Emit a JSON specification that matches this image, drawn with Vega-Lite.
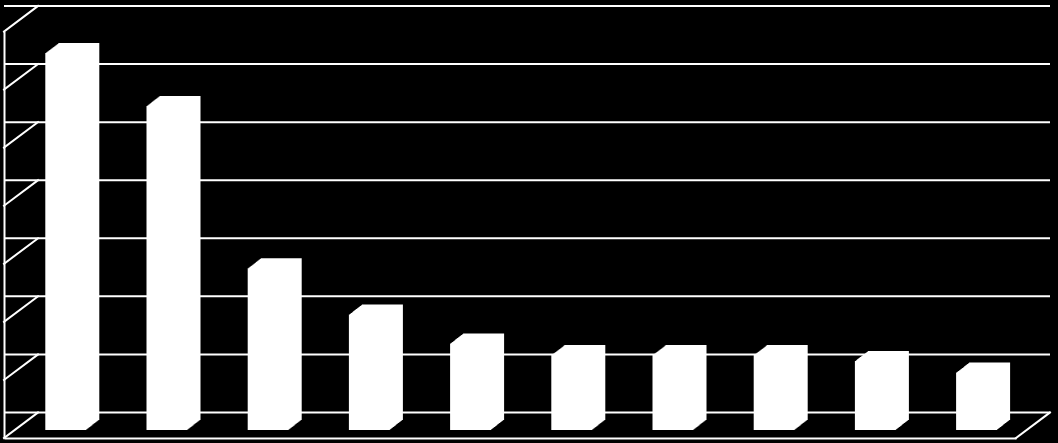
{
  "$schema": "https://vega.github.io/schema/vega-lite/v6.json",
  "width": 1012,
  "height": 406.5,
  "autosize": {"type": "none"},
  "padding": {"left": 4, "top": 31.5, "right": 42, "bottom": 5},
  "background": "#000000",
  "config": {"view": {"stroke": null}},
  "datasets": {
    "grid": [{"g": 0}, {"g": 1}, {"g": 2}, {"g": 3}, {"g": 4}, {"g": 5}, {"g": 6}, {"g": 7}],
    "bars": [
      {"c": "1", "v": 6.49},
      {"c": "2", "v": 5.58},
      {"c": "3", "v": 2.785},
      {"c": "4", "v": 1.99},
      {"c": "5", "v": 1.49},
      {"c": "6", "v": 1.29},
      {"c": "7", "v": 1.29},
      {"c": "8", "v": 1.29},
      {"c": "9", "v": 1.19},
      {"c": "10", "v": 0.99}
    ]
  },
  "layer": [
    {
      "data": {"name": "grid"},
      "mark": {"type": "rule", "color": "#ffffff", "strokeWidth": 2, "xOffset": 34, "x2Offset": 34, "yOffset": -25.5, "y2Offset": -25.5},
      "encoding": {
        "y": {"field": "g", "type": "quantitative", "scale": {"domain": [0, 7], "nice": false, "zero": true},
          "axis": {"labels": false, "ticks": false, "grid": false, "title": null, "domainColor": "#ffffff", "domainWidth": 2}}
      }
    },
    {
      "data": {"name": "grid"},
      "mark": {"type": "rule", "color": "#ffffff", "strokeWidth": 2, "strokeCap": "square", "x2Offset": 34, "y2Offset": -25.5},
      "encoding": {
        "x": {"value": 0},
        "x2": {"value": 0},
        "y": {"field": "g", "type": "quantitative"},
        "y2": {"field": "g"}
      }
    },
    {
      "data": {"values": [{"f": 0}]},
      "mark": {"type": "rule", "color": "#ffffff", "strokeWidth": 2, "strokeCap": "square", "x2Offset": 34, "y2Offset": -25.5},
      "encoding": {
        "x": {"value": "width"},
        "x2": {"value": "width"},
        "y": {"field": "f", "type": "quantitative"},
        "y2": {"field": "f"}
      }
    },
    {
      "data": {"name": "bars"},
      "encoding": {
        "x": {"field": "c", "type": "nominal", "sort": null, "scale": {"paddingInner": 0, "paddingOuter": 0},
          "axis": {"labels": false, "ticks": false, "grid": false, "title": null, "domainColor": "#ffffff", "domainWidth": 2}},
        "y": {"field": "v", "type": "quantitative"}
      },
      "layer": [
        {"mark": {"type": "bar", "size": 41, "color": "#ffffff", "xOffset": 11.2, "x2Offset": 11.2, "yOffset": -8, "y2Offset": -8}},
        {"mark": {"type": "bar", "size": 41, "color": "#ffffff", "xOffset": 12.2, "x2Offset": 12.2, "yOffset": -8.77, "y2Offset": -8.77}},
        {"mark": {"type": "bar", "size": 41, "color": "#ffffff", "xOffset": 13.2, "x2Offset": 13.2, "yOffset": -9.54, "y2Offset": -9.54}},
        {"mark": {"type": "bar", "size": 41, "color": "#ffffff", "xOffset": 14.2, "x2Offset": 14.2, "yOffset": -10.31, "y2Offset": -10.31}},
        {"mark": {"type": "bar", "size": 41, "color": "#ffffff", "xOffset": 15.2, "x2Offset": 15.2, "yOffset": -11.08, "y2Offset": -11.08}},
        {"mark": {"type": "bar", "size": 41, "color": "#ffffff", "xOffset": 16.2, "x2Offset": 16.2, "yOffset": -11.85, "y2Offset": -11.85}},
        {"mark": {"type": "bar", "size": 41, "color": "#ffffff", "xOffset": 17.2, "x2Offset": 17.2, "yOffset": -12.62, "y2Offset": -12.62}},
        {"mark": {"type": "bar", "size": 41, "color": "#ffffff", "xOffset": 18.2, "x2Offset": 18.2, "yOffset": -13.38, "y2Offset": -13.38}},
        {"mark": {"type": "bar", "size": 41, "color": "#ffffff", "xOffset": 19.2, "x2Offset": 19.2, "yOffset": -14.15, "y2Offset": -14.15}},
        {"mark": {"type": "bar", "size": 41, "color": "#ffffff", "xOffset": 20.2, "x2Offset": 20.2, "yOffset": -14.92, "y2Offset": -14.92}},
        {"mark": {"type": "bar", "size": 41, "color": "#ffffff", "xOffset": 21.2, "x2Offset": 21.2, "yOffset": -15.69, "y2Offset": -15.69}},
        {"mark": {"type": "bar", "size": 41, "color": "#ffffff", "xOffset": 22.2, "x2Offset": 22.2, "yOffset": -16.46, "y2Offset": -16.46}},
        {"mark": {"type": "bar", "size": 41, "color": "#ffffff", "xOffset": 23.2, "x2Offset": 23.2, "yOffset": -17.23, "y2Offset": -17.23}},
        {"mark": {"type": "bar", "size": 41, "color": "#ffffff", "xOffset": 24.2, "x2Offset": 24.2, "yOffset": -18, "y2Offset": -18}}
      ]
    }
  ]
}
